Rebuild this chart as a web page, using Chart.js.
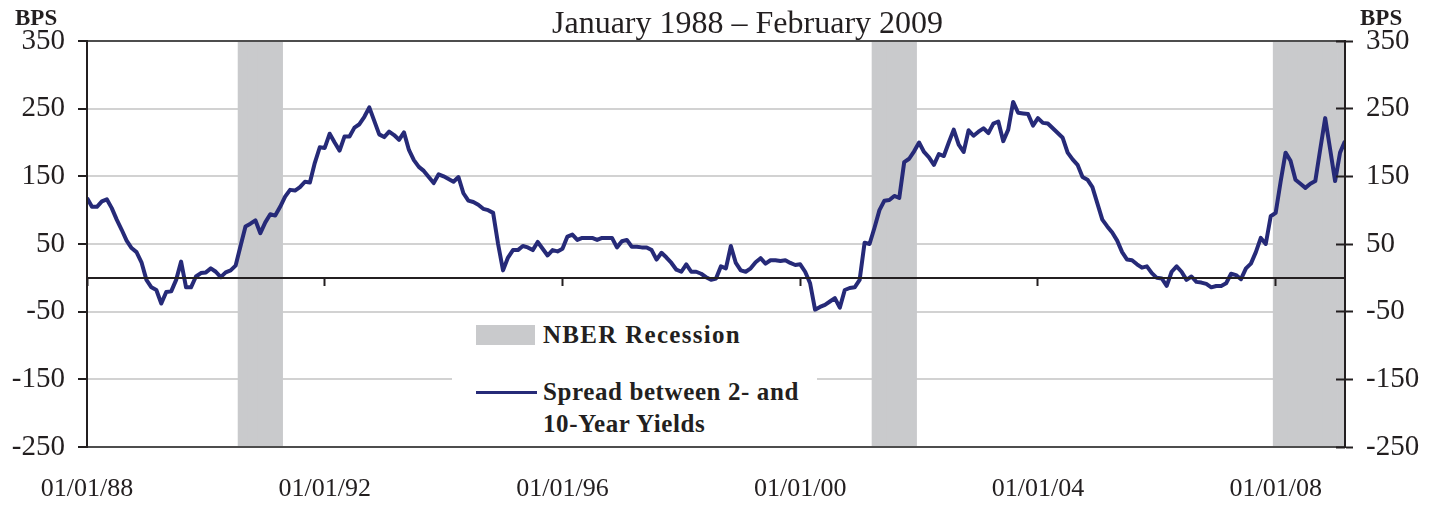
<!DOCTYPE html>
<html>
<head>
<meta charset="utf-8">
<script src="https://cdn.jsdelivr.net/npm/chart.js@4.4.1/dist/chart.umd.min.js"></script>
<style>
    body { margin: 0; background: #fff; }
    #wrap {
        position: relative; width: 1439px; height: 506px;
        font-family: 'Liberation Serif', 'Times New Roman', serif; color: #231f20;
    }
    #chart { position: absolute; left: 0; top: 0; }
    .bps { position: absolute; top: 6px; font-weight: bold; font-size: 23px; line-height: 23px; }
    #title { position: absolute; left: 552px; top: 6px; font-size: 32px; line-height: 32px; white-space: nowrap; }
    #legend { position: absolute; left: 452px; top: 316px; width: 365px; height: 129px; background: #fff; }
    #legend .item { position: absolute; left: 24px; }
    #legend .swatch { position: absolute; left: 0; }
    #legend .txt {
        position: absolute; left: 67px; width: 268px;
        font-weight: bold; font-size: 25px; line-height: 32px; letter-spacing: 0.6px;
    }
    #legend .wide { letter-spacing: 1.3px; }
</style>
</head>
<body>
<div id="wrap">
    <canvas id="chart" width="1439" height="506"></canvas>
    <div class="bps" style="left:15px">BPS</div>
    <div class="bps" style="left:1360px">BPS</div>
    <div id="title">January 1988 – February 2009</div>
    <div id="legend"></div>
</div>
<script>
// Months counted from January 1988 (0) to the end of the series
const tickMonths = [0, 48, 96, 144, 192, 240];
const tickLabels = ['01/01/88', '01/01/92', '01/01/96', '01/01/00', '01/01/04', '01/01/08'];
const yTicks = [-250, -150, -50, 50, 150, 250, 350];

// NBER recession months (shaded columns)
const recessionMonths = [
    31, 32, 33, 34, 35, 36, 37, 38, 39,
    159, 160, 161, 162, 163, 164, 165, 166, 167,
    240, 241, 242, 243, 244, 245, 246, 247, 248, 249, 250, 251, 252, 253, 254
];

// Spread between 2- and 10-year yields, bps, one value per month
const spread = [
    118, 105, 105, 113, 116, 103, 86, 71, 55, 44,
    38, 23, -3, -14, -18, -38, -21, -20, -3, 24,
    -14, -14, 2, 7, 8, 14, 9, 1, 8, 11,
    18, 47, 76, 80, 85, 66, 82, 94, 92, 105,
    120, 130, 129, 134, 142, 141, 170, 193, 192, 213,
    200, 188, 209, 209, 222, 227, 238, 252, 232, 212,
    208, 216, 211, 204, 215, 189, 174, 164, 158, 149,
    140, 153, 150, 146, 142, 149, 125, 114, 112, 108,
    102, 100, 96, 50, 11, 30, 41, 41, 47, 45,
    41, 53, 43, 33, 41, 39, 43, 61, 64, 56,
    59, 59, 59, 56, 59, 59, 59, 45, 54, 56,
    46, 46, 45, 45, 41, 27, 37, 30, 22, 12,
    9, 20, 9, 9, 6, 1, -3, -1, 17, 14,
    47, 22, 11, 9, 14, 23, 29, 21, 26, 26,
    25, 26, 22, 19, 20, 9, -8, -47, -43, -40,
    -35, -30, -44, -18, -15, -14, -3, 52, 50, 74,
    100, 114, 115, 121, 118, 171, 176, 187, 200, 186,
    178, 167, 183, 180, 200, 219, 197, 186, 218, 210,
    216, 221, 214, 228, 231, 202, 219, 260, 244, 243,
    242, 225, 236, 229, 228, 221, 214, 207, 185, 175,
    167, 149, 145, 134, 110, 86, 76, 67, 55, 38,
    27, 26, 20, 15, 17, 7, 0, -1, -12, 9,
    17, 9, -3, 2, -6, -7, -9, -14, -12, -12,
    -8, 6, 4, -2, 14, 21, 38, 59, 50, 91,
    96, 142, 185, 173, 145, 139, 133, 139, 143, 190,
    236, 190, 143, 185, 202
];

const yMin = -250;
const yMax = 350;
const lastMonth = spread.length - 1;

const ink = '#231f20';
const lineColor = '#262a78';
const recessionColor = '#c9cacc';
const serif = 'Liberation Serif';

function setXTicks(scale) {
    scale.ticks = tickMonths.map(v => ({ value: v }));
}
function setYTicks(scale) {
    scale.ticks = yTicks.map(v => ({ value: v }));
}

// Builds the boxed legend from the datasets
const htmlLegend = {
    id: 'htmlLegend',
    afterUpdate(chart) {
        const box = document.getElementById('legend');
        box.innerHTML = '';
        chart.data.datasets.forEach((ds, i) => {
            const item = document.createElement('div');
            item.className = 'item';
            const sw = document.createElement('div');
            sw.className = 'swatch';
            const txt = document.createElement('div');
            txt.className = 'txt';
            txt.textContent = ds.label;
            if (ds.type === 'bar') {
                item.style.top = '9px';
                sw.style.cssText = 'top:0;width:59px;height:20px;background:' + ds.backgroundColor;
                txt.style.top = '-6px';
                txt.classList.add('wide');
            } else {
                item.style.top = '75px';
                sw.style.cssText = 'top:0;width:61px;height:3px;background:' + ds.borderColor;
                txt.style.top = '-15px';
            }
            item.appendChild(sw);
            item.appendChild(txt);
            box.appendChild(item);
        });
    }
};

const ctx = document.getElementById('chart').getContext('2d');

new Chart(ctx, {
    type: 'line',
    data: {
        datasets: [
            {
                type: 'bar',
                label: 'NBER Recession',
                data: recessionMonths.map(m => ({ x: m, y: [yMin, yMax] })),
                backgroundColor: recessionColor,
                borderWidth: 0,
                barPercentage: 1,
                categoryPercentage: 1,
                order: 2
            },
            {
                type: 'line',
                label: 'Spread between 2- and 10-Year Yields',
                data: spread.map((v, i) => ({ x: i, y: v })),
                borderColor: lineColor,
                borderWidth: 4,
                borderJoinStyle: 'round',
                pointRadius: 0,
                tension: 0,
                order: 1
            }
        ]
    },
    options: {
        responsive: false,
        animation: false,
        layout: { padding: { top: 41 } },
        plugins: {
            legend: { display: false },
            tooltip: { enabled: false },
            title: { display: false }
        },
        scales: {
            x: {
                type: 'linear',
                min: 0,
                max: lastMonth,
                offset: false,
                afterBuildTicks: setXTicks,
                afterFit: s => { s.height = 59; },
                grid: { display: false, drawTicks: false },
                border: { color: '#4d4d4d', width: 2, z: 1 },
                ticks: {
                    callback: v => tickLabels[tickMonths.indexOf(v)],
                    font: { family: serif, size: 26 },
                    color: ink,
                    padding: 27,
                    maxRotation: 0,
                    autoSkip: false
                }
            },
            // zero line with its small downward ticks
            x0: {
                axis: 'x',
                type: 'linear',
                position: { y: 0 },
                min: 0,
                max: lastMonth,
                afterBuildTicks: setXTicks,
                grid: { drawOnChartArea: false, tickColor: ink, tickLength: 7, tickWidth: 2, z: 1 },
                border: { color: ink, width: 2, z: 1 },
                ticks: { display: false }
            },
            // top frame line
            xTop: {
                axis: 'x',
                type: 'linear',
                position: { y: yMax },
                min: 0,
                max: lastMonth,
                grid: { display: false },
                border: { color: '#4d4d4d', width: 2, z: 1 },
                ticks: { display: false }
            },
            y: {
                type: 'linear',
                position: 'left',
                min: yMin,
                max: yMax,
                afterBuildTicks: setYTicks,
                afterFit: s => { s.width = 87; },
                grid: {
                    color: c => (c.tick && c.tick.value === yMax) ? '#4d4d4d' : '#d2d2d2',
                    lineWidth: 2,
                    tickColor: ink,
                    tickLength: 9,
                    tickWidth: 2
                },
                border: { color: ink, width: 2, z: 1 },
                ticks: {
                    callback: v => String(v),
                    font: { family: serif, size: 29 },
                    color: ink,
                    padding: 13
                }
            },
            y2: {
                type: 'linear',
                position: 'right',
                min: yMin,
                max: yMax,
                afterBuildTicks: setYTicks,
                afterFit: s => { s.width = 94; },
                grid: { drawOnChartArea: false, tickColor: ink, tickLength: 8, tickWidth: 2 },
                border: { color: ink, width: 2, z: 1 },
                ticks: {
                    callback: v => String(v),
                    font: { family: serif, size: 29 },
                    color: ink,
                    padding: 13
                }
            },
            // inner half of the right-hand cross ticks
            yIn: {
                axis: 'y',
                type: 'linear',
                position: { x: lastMonth },
                min: yMin,
                max: yMax,
                afterBuildTicks: setYTicks,
                grid: { drawOnChartArea: false, tickColor: ink, tickLength: 9, tickWidth: 2, z: 1 },
                border: { display: false },
                ticks: { display: false }
            }
        }
    },
    plugins: [htmlLegend]
});
</script>
</body>
</html>
